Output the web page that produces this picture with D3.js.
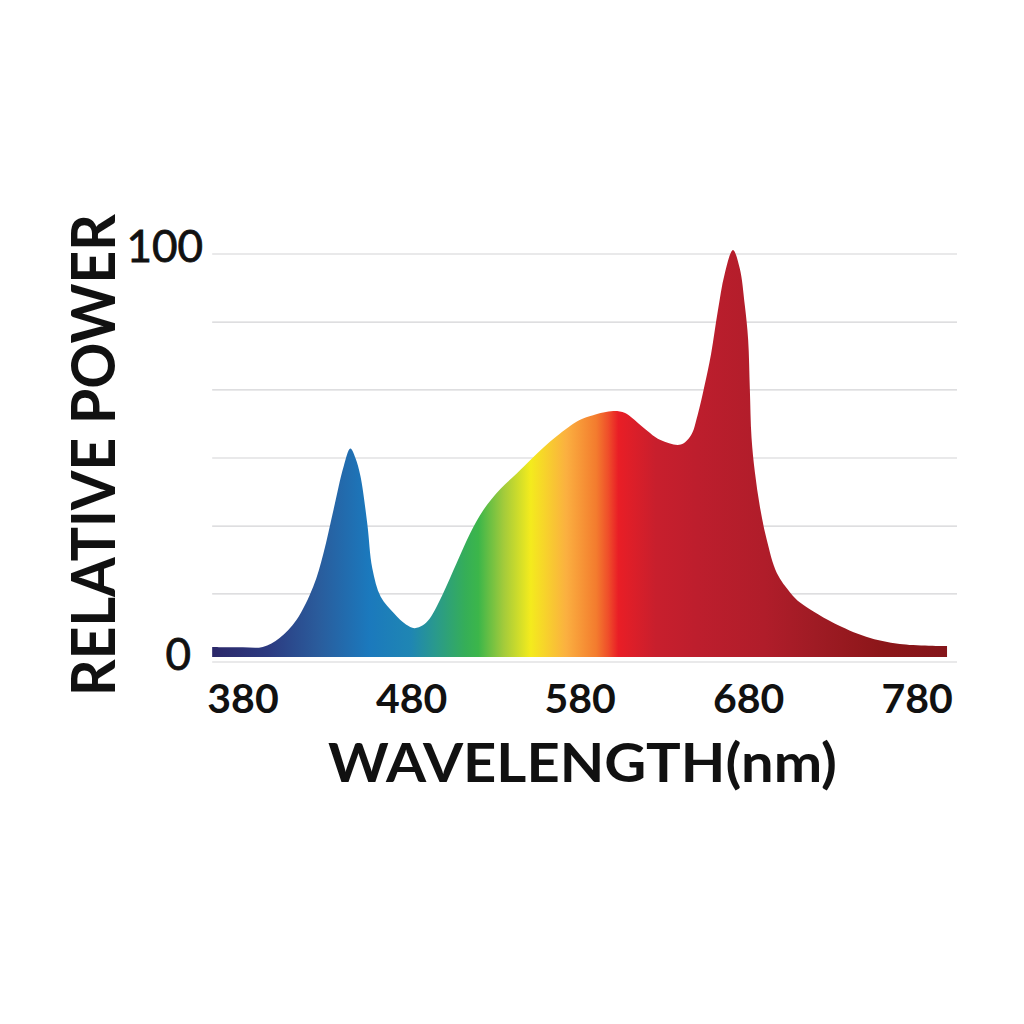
<!DOCTYPE html>
<html lang="en">
<head>
    <meta charset="utf-8" />
    <title>Spectrum - relative power</title>
    <script src="https://cdnjs.cloudflare.com/ajax/libs/d3/7.4.4/d3.min.js"></script>
    <style>
      html, body { margin: 0; padding: 0; background: #fff; }
      svg { display: block; }
    </style>
</head>
<body>
    <div id="chart"></div>
    <script type="text/javascript">

    // spectrum (nm, relative power)
    const wavelength = [362, 380, 392, 402, 412, 422, 428, 434, 440, 444, 447, 450, 454, 457, 462, 470, 477, 482, 487, 491,
                        499, 507, 515, 523, 533, 543, 552, 566, 580, 588, 600, 607, 616, 628, 640, 646, 650, 654, 658, 662,
                        666, 671, 675, 678, 680, 681, 682, 684, 687, 691, 697, 705, 711, 719, 731, 750, 770, 798];
    const power = [3.7, 3.6, 3.7, 5.9, 10.3, 18.5, 26.6, 37.3, 47.9, 52.3, 50, 45.5, 34, 23, 16, 11.9, 9.2, 8.3, 9.0, 10.6,
                   16.8, 24.2, 31.5, 37.3, 42.4, 46.3, 50.0, 55.2, 59.3, 60.5, 61.5, 61.0, 58.1, 54.4, 53.3, 55.5, 60.5, 67.5, 75.5, 86,
                   95, 101, 96.5, 87.5, 79, 67, 55, 46.5, 38, 30, 21.8, 17, 14.5, 12.3, 9.5, 6.2, 4.4, 3.9];

    const xTicks = [380, 480, 580, 680, 780];
    const yTicks = [0, 100];
    const gridValues = [0, 16.7, 33.3, 50, 66.7, 83.3, 100];

    // colour of the light at each wavelength
    const stopNm = [362, 395, 425, 455, 480, 495, 512, 520, 535, 551, 572, 590, 597, 603, 625, 650, 690, 720, 760, 798];
    const stopColor = ['#2b2869', '#2c3a80', '#2a5c9c', '#1b79bd', '#1f86b3', '#2a9a8b', '#35ae58', '#3cb64a', '#a3cb3b', '#f4eb1d',
                       '#fbb040', '#f37b2e', '#ef4e2a', '#e91e26', '#c81f2d', '#bd1e2d', '#b01d2a', '#9f1b24', '#8c1619', '#84151a'];

    const baseValue = 1.2;   // fill sits a little above the bottom grid line

    const data = wavelength.map((nm, i) => ({ nm: nm, p: power[i] }));

    const svg = d3.select('#chart').append('svg')
        .attr('width', 1024)
        .attr('height', 1024);

    // scales
    const x = d3.scaleLinear().domain([380, 780]).range([242.5, 916.7]);
    const y = d3.scaleLinear().domain([0, 100]).range([662, 254]);

    const gridLeft = x(wavelength[0]), gridRight = 957;

    // grid lines
    svg.append('g')
        .selectAll('line')
        .data(gridValues)
        .enter()
        .append('line')
            .attr('x1', gridLeft)
            .attr('x2', gridRight)
            .attr('y1', d => y(d))
            .attr('y2', d => y(d))
            .attr('stroke', '#d3d3d6')
            .attr('stroke-width', 1.2);

    // spectrum gradient, horizontal in data space
    const grad = svg.append('defs').append('linearGradient')
        .attr('id', 'spectrum')
        .attr('gradientUnits', 'userSpaceOnUse')
        .attr('x1', x(stopNm[0])).attr('x2', x(stopNm[stopNm.length - 1]))
        .attr('y1', 0).attr('y2', 0);

    const span = stopNm[stopNm.length - 1] - stopNm[0];
    grad.selectAll('stop')
        .data(stopNm)
        .enter()
        .append('stop')
            .attr('offset', d => (d - stopNm[0]) / span)
            .attr('stop-color', (d, i) => stopColor[i]);

    const area = d3.area()
        .x(d => x(d.nm))
        .y0(y(baseValue))
        .y1(d => y(d.p))
        .curve(d3.curveCatmullRom.alpha(0.5));

    svg.append('path')
        .datum(data)
        .attr('d', area)
        .attr('fill', 'url(#spectrum)');

    // x axis labels
    const xAxis = svg.append('g')
        .attr('transform', 'translate(0,' + y(0) + ')')
        .call(d3.axisBottom(x).tickValues(xTicks).tickSize(0).tickFormat(d3.format('d')));
    xAxis.select('.domain').remove();
    xAxis.selectAll('text')
        .attr('y', 51)
        .attr('dy', 0)
        .attr('fill', '#111')
        .style('font-family', 'Lato, "DejaVu Sans", sans-serif')
        .style('font-weight', 700)
        .style('font-size', '41px');

    // y axis labels
    const yAxis = svg.append('g')
        .call(d3.axisLeft(y).tickValues(yTicks).tickSize(0));
    yAxis.select('.domain').remove();
    yAxis.selectAll('text')
        .attr('x', d => d === 0 ? 191 : 203)
        .attr('dy', 7)
        .attr('text-anchor', 'end')
        .attr('fill', '#111')
        .attr('stroke', '#111')
        .attr('stroke-width', 0.8)
        .style('font-family', 'Lato, "DejaVu Sans", sans-serif')
        .style('font-weight', 400)
        .style('font-size', '44px');

    // titles
    svg.append('text')
        .attr('x', 582.5)
        .attr('y', 782)
        .attr('text-anchor', 'middle')
        .attr('textLength', 509)
        .attr('lengthAdjust', 'spacingAndGlyphs')
        .attr('fill', '#111')
        .style('font-family', 'Lato, "DejaVu Sans", sans-serif')
        .style('font-weight', 700)
        .style('font-size', '53px')
        .text('WAVELENGTH(nm)');

    svg.append('text')
        .attr('transform', 'translate(115,455) rotate(-90)')
        .attr('text-anchor', 'middle')
        .attr('textLength', 482)
        .attr('lengthAdjust', 'spacingAndGlyphs')
        .attr('fill', '#111')
        .style('font-family', 'Lato, "DejaVu Sans", sans-serif')
        .style('font-weight', 700)
        .style('font-size', '61px')
        .text('RELATIVE POWER');

    </script>
</body>
</html>
